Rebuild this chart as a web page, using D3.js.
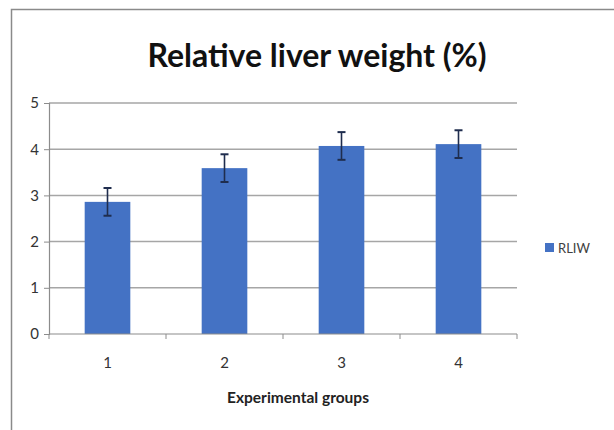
<!DOCTYPE html>
<html><head><meta charset="utf-8">
<script src="https://cdn.jsdelivr.net/npm/d3@7"></script>
<style>body{margin:0;background:#fff}svg{display:block}text{font-family:Lato,"Open Sans",sans-serif}</style>
</head><body><div id="c"></div>
<script>
const categories = ["1","2","3","4"];
const values = [2.86, 3.59, 4.07, 4.11];
const errors = [0.30, 0.30, 0.30, 0.30];
const yTicks = [0,1,2,3,4,5];
const seriesName = "RLIW";
const title = "Relative liver weight (%)";
const xTitle = "Experimental groups";

const W=614,H=430;
const svg=d3.select("#c").append("svg").attr("width",W).attr("height",H);
svg.append("rect").attr("x",0).attr("y",0).attr("width",W).attr("height",H).attr("fill","#fff");
// outer border
svg.append("path").attr("d",`M11.5,${H} L11.5,9.5 L${W},9.5`).attr("fill","none").attr("stroke","#8a8a8a").attr("stroke-width",1.5);

const x=d3.scaleBand().domain(categories).range([49,517]).paddingInner(0.61).paddingOuter(0.305);
const y=d3.scaleLinear().domain([0,5]).range([334,103]);

// gridlines
svg.append("g").selectAll("line").data(yTicks.filter(d=>d>0)).join("line")
 .attr("x1",49).attr("x2",517).attr("y1",d=>y(d)).attr("y2",d=>y(d))
 .attr("stroke","#a6a6a6").attr("stroke-width",1.5);

// y axis
const ya=svg.append("g").attr("transform","translate(49,0)").call(d3.axisLeft(y).tickValues(yTicks).tickSize(5).tickPadding(5).tickFormat(d3.format("d")));
ya.select(".domain").attr("stroke","#8c8c8c").attr("stroke-width",1.2);
ya.selectAll(".tick line").attr("stroke","#8c8c8c");
ya.selectAll("text").attr("font-size",15).attr("fill","#333");

// bars
svg.append("g").selectAll("rect").data(values).join("rect")
 .attr("x",(d,i)=>x(categories[i])).attr("width",x.bandwidth())
 .attr("y",d=>y(d)).attr("height",d=>y(0)-y(d)).attr("fill","#4472c4");

// x axis
const step=x.step();
const xb=[0,1,2,3,4].map(i=>49+i*step);
svg.append("line").attr("x1",49).attr("x2",517).attr("y1",y(0)).attr("y2",y(0)).attr("stroke","#8c8c8c").attr("stroke-width",1.2);
svg.append("g").selectAll("line").data(xb).join("line")
 .attr("x1",d=>d).attr("x2",d=>d).attr("y1",y(0)).attr("y2",y(0)+5).attr("stroke","#8c8c8c");
svg.append("g").selectAll("text").data(categories).join("text")
 .attr("x",d=>x(d)+x.bandwidth()/2).attr("y",368).attr("text-anchor","middle")
 .attr("font-size",15).attr("fill","#333").text(d=>d);

// error bars
const eb=svg.append("g").attr("stroke","#1f2d4e").attr("stroke-width",1.6);
values.forEach((v,i)=>{
  const cx=x(categories[i])+x.bandwidth()/2;
  eb.append("line").attr("x1",cx).attr("x2",cx).attr("y1",y(v+errors[i])).attr("y2",y(v-errors[i]));
  eb.append("line").attr("x1",cx-4).attr("x2",cx+4).attr("y1",y(v+errors[i])).attr("y2",y(v+errors[i])).attr("stroke-width",2);
  eb.append("line").attr("x1",cx-4).attr("x2",cx+4).attr("y1",y(v-errors[i])).attr("y2",y(v-errors[i])).attr("stroke-width",2);
});

// title
svg.append("text").attr("x",317).attr("y",67).attr("text-anchor","middle").attr("font-size",32).attr("font-weight","bold").attr("fill","#111").text(title);
svg.append("text").attr("x",298).attr("y",403).attr("text-anchor","middle").attr("font-size",15.5).attr("font-weight","bold").attr("fill","#222").text(xTitle);

// legend
svg.append("rect").attr("x",545).attr("y",243).attr("width",9).attr("height",9).attr("fill","#4472c4");
svg.append("text").attr("x",558).attr("y",252.5).attr("font-size",13).attr("fill","#404040").text(seriesName);
</script></body></html>
